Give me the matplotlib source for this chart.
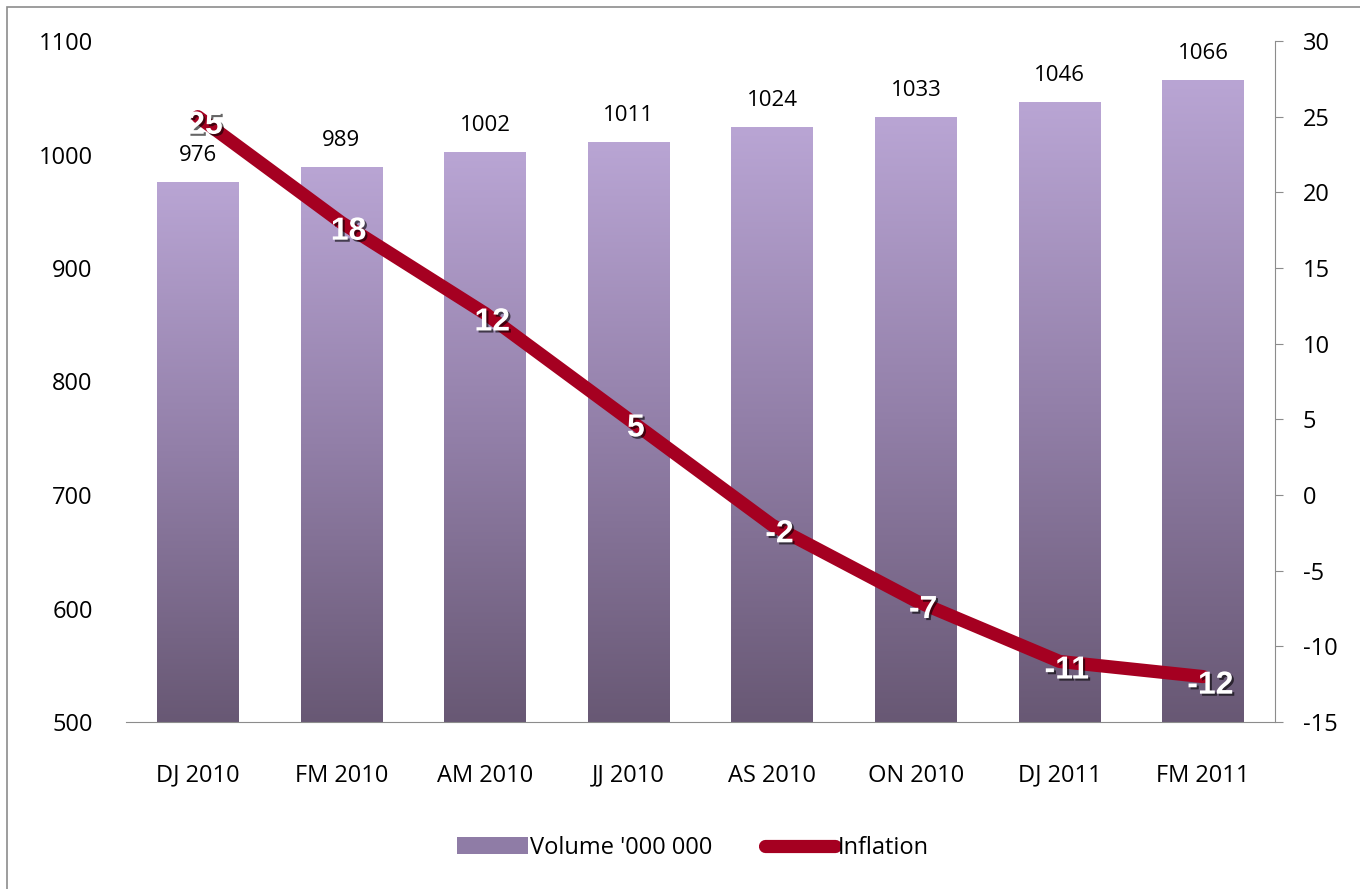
import numpy as np
import matplotlib.pyplot as plt
import matplotlib.patheffects as pe
from matplotlib.colors import LinearSegmentedColormap
from matplotlib.patches import Rectangle, Patch
from matplotlib.lines import Line2D

periods = ['DJ 2010', 'FM 2010', 'AM 2010', 'JJ 2010', 'AS 2010', 'ON 2010', 'DJ 2011', 'FM 2011']
volume = [976, 989, 1002, 1011, 1024, 1033, 1046, 1066]
inflation = [25, 18, 12, 5, -2, -7, -11, -12]

plt.rcParams['font.family'] = ['Open Sans', 'DejaVu Sans']
plt.rcParams['axes.unicode_minus'] = False

fig = plt.figure(figsize=(13.6, 8.89), dpi=100)
fig.patches.append(Rectangle((7 / 1360, -0.1), 1.2, 1 - 7 / 889 + 0.1, transform=fig.transFigure,
                             fill=False, edgecolor='#8c8c8c', linewidth=1.2))

ax = fig.add_axes([126 / 1360, 1 - 722 / 889, (1275 - 126) / 1360, (722 - 41) / 889])
ax2 = ax.twinx()

x = np.arange(len(periods))
width = 0.57

# vertical gradient for the bars
purple = LinearSegmentedColormap.from_list('purple', ['#685874', '#927fa8', '#b9a5d4'])
grad = np.linspace(0, 1, 256).reshape(-1, 1)
bars = ax.bar(x, volume, width, color='none', edgecolor='none', zorder=2)
for bar, v in zip(bars, volume):
    bx = bar.get_x()
    im = ax.imshow(grad, cmap=purple, aspect='auto', origin='lower',
                   extent=[bx, bx + width, 500, v], zorder=2)
    im.set_clip_path(bar)
    ax.text(bar.get_x() + width / 2, v + 14, str(v), ha='center', va='bottom',
            fontsize=16, color='black', zorder=3)
ax.set_xlim(-0.5, len(periods) - 0.5)
ax.set_ylim(500, 1100)

ax.set_yticks(range(500, 1101, 100))
ax.set_xticks(x)
ax.set_xticklabels(periods)
ax.tick_params(axis='y', length=0, labelsize=17, pad=24)
ax.tick_params(axis='x', length=0, labelsize=17, pad=30)
for s in ['left', 'top', 'right']:
    ax.spines[s].set_visible(False)
ax.spines['bottom'].set_color('#8c8c8c')

ax2.plot(x, inflation, color='#a50021', linewidth=9.5, solid_capstyle='round', zorder=4)
ax2.set_ylim(-15, 30)
ax2.set_yticks(range(-15, 31, 5))
ax2.tick_params(axis='y', length=6, color='#8c8c8c', labelsize=17, pad=14)
for s in ['left', 'top', 'bottom']:
    ax2.spines[s].set_visible(False)
ax2.spines['right'].set_color('#8c8c8c')
for xi, v in zip(x, inflation):
    ax2.text(xi + 0.05, v - 0.6, str(v), ha='center', va='center', fontsize=23, fontweight='bold',
             family='Liberation Sans', color='white', zorder=5,
             path_effects=[pe.withSimplePatchShadow(offset=(1.5, -1.5), shadow_rgbFace='black', alpha=0.6)])

handles = [Patch(facecolor='#8f7ca6', edgecolor='none'),
           Line2D([0], [0], color='#a50021', linewidth=9.5, solid_capstyle='round')]
fig.legend(handles, ["Volume '000 000", 'Inflation'], loc='center', bbox_to_anchor=(693 / 1360, 1 - 848 / 889),
           ncol=2, frameon=False, fontsize=17, handlelength=3.0, handletextpad=0.1, columnspacing=2.2)

fig.savefig('out.png', dpi=100)
